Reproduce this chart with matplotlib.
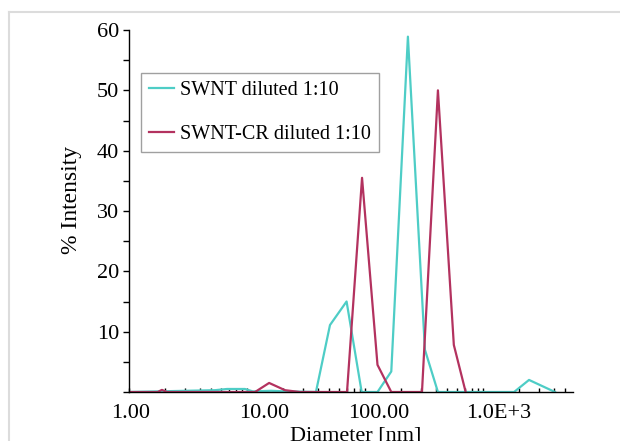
import numpy as np
import matplotlib
matplotlib.use("Agg")
import matplotlib.pyplot as plt
from matplotlib.lines import Line2D
from matplotlib.transforms import ScaledTranslation
from matplotlib.ticker import MultipleLocator, FixedLocator, NullFormatter

plt.rcParams['font.family'] = ['Liberation Serif', 'DejaVu Serif']

# ---- data ----
# SWNT diluted 1:10 (diameter nm, % intensity)
swnt_d = [1.0, 5.36, 6.77, 9.6, 11.2, 16.0, 21.0, 38.4, 50.5, 69.8, 93.7,
          127.6, 167.0, 231.0, 322.0, 415.0, 1834.0, 2455.0, 4074.0]
swnt_i = [0.0, 0.3, 0.5, 0.5, 0.1, 0.2, 0.1, 0.0, 11.1, 15.0, 0.0,
          0.0, 3.4, 58.9, 7.0, 0.0, 0.0, 2.0, 0.0]

# SWNT-CR diluted 1:10
cr_d = [1.0, 1.75, 1.9, 2.1, 11.7, 15.4, 21.0, 28.0, 70.4, 94.4, 127.6,
        167.0, 304.0, 415.0, 566.0, 713.0]
cr_i = [0.0, 0.0, 0.35, 0.0, 0.0, 1.5, 0.3, 0.0, 0.0, 35.5, 4.5,
        0.0, 0.0, 50.0, 7.8, 0.0]

xtick_vals = [1, 10, 100, 1000]
xtick_labels = ["1.00", "10.00", "100.00", "1.0E+3"]
ytick_vals = [10, 20, 30, 40, 50, 60]

cyan = "#4ecdc6"
wine = "#b3325f"

fig = plt.figure(figsize=(6.2, 4.41), dpi=100)
ax = fig.add_axes([129/620, 1 - 392/441, 444/620, 362/441])

ax.plot(swnt_d, swnt_i, color=cyan, lw=1.6, label="SWNT diluted 1:10")
ax.plot(cr_d, cr_i, color=wine, lw=1.6, label="SWNT-CR diluted 1:10")

ax.set_xscale("log")
ax.set_xlim(1, 10 ** (444 / 118))
ax.set_ylim(0, 60)

ax.xaxis.set_major_locator(FixedLocator(xtick_vals))
ax.set_xticks(xtick_vals)
ax.set_xticklabels(xtick_labels)
ax.xaxis.set_minor_formatter(NullFormatter())
ax.set_yticks(ytick_vals)
ax.yaxis.set_minor_locator(MultipleLocator(5))

ax.tick_params(axis="x", which="both", direction="in", length=3, width=1,
               labelsize=16, pad=9)
ax.tick_params(axis="y", which="both", direction="out", length=4, width=1,
               labelsize=16, pad=3)

# labels in the original sit a little right of their ticks
shifts = [2, 17, 14, 16]
for lab, s in zip(ax.get_xticklabels(), shifts):
    lab.set_transform(lab.get_transform() + ScaledTranslation(s / 100, 0, fig.dpi_scale_trans))

for side in ["top", "right"]:
    ax.spines[side].set_visible(False)
for side in ["left", "bottom"]:
    ax.spines[side].set_linewidth(1)

ax.set_xlabel("Diameter [nm]", fontsize=16)
ax.set_ylabel("% Intensity", fontsize=17)
ax.yaxis.set_label_coords(-0.106, 0.53)
ax.xaxis.set_label_coords(0.51, -0.095)

leg = ax.legend(loc="upper left", bbox_to_anchor=(141/620, 1 - 73/441),
                bbox_transform=fig.transFigure, borderaxespad=0,
                fontsize=14.5, labelspacing=1.25, handlelength=1.25,
                handletextpad=0.3, borderpad=0.4, fancybox=False,
                framealpha=1, edgecolor="#a0a0a0")
leg.get_frame().set_linewidth(1)

# light frame round the picture
fig.add_artist(Line2D([9/620, 1], [1 - 12/441, 1 - 12/441], color="#dcdcdc", lw=1.5,
                      transform=fig.transFigure))
fig.add_artist(Line2D([9/620, 9/620], [0, 1 - 12/441], color="#dcdcdc", lw=1.5,
                      transform=fig.transFigure))

fig.savefig("out.png", dpi=100)
